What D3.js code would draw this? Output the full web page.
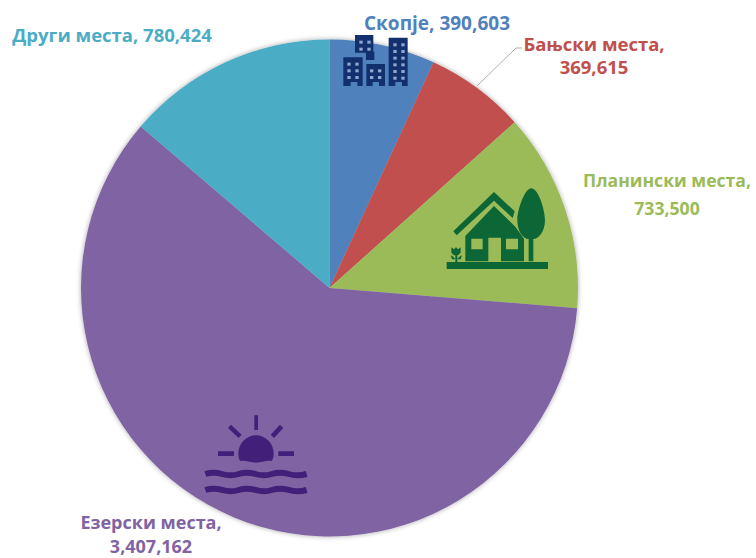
<!DOCTYPE html>
<html>
<head>
<meta charset="utf-8">
<script src="https://cdnjs.cloudflare.com/ajax/libs/d3/7.8.5/d3.min.js"></script>
<style>
  html, body { margin: 0; background: #fff; }
  text { font-family: "Open Sans", sans-serif; font-weight: 700; }
</style>
</head>
<body>
<svg id="chart" width="756" height="558"></svg>
<script>
const categories = ['Скопје', 'Бањски места', 'Планински места', 'Езерски места', 'Други места'];
const visitors = [390603, 369615, 733500, 3407162, 780424];
const valueLabels = ['390,603', '369,615', '733,500', '3,407,162', '780,424'];
const sliceColors = ['#4f81bd', '#c0504d', '#9bbb59', '#8064a2', '#4bacc6'];

const width = 756, height = 558;
const cx = 329.5, cy = 288, radius = 248.5;

const svg = d3.select('#chart').attr('viewBox', `0 0 ${width} ${height}`);

// soft shadow round the pie
const defs = svg.append('defs');
const shadow = defs.append('filter').attr('id', 'soft')
    .attr('x', '-5%').attr('y', '-5%').attr('width', '110%').attr('height', '110%');
shadow.append('feDropShadow')
    .attr('dx', 0).attr('dy', 0).attr('stdDeviation', 2.5)
    .attr('flood-color', '#000').attr('flood-opacity', 0.35);

const pie = d3.pie().sort(null)(visitors);
const arc = d3.arc().innerRadius(0).outerRadius(radius);

svg.append('g')
    .attr('transform', `translate(${cx},${cy})`)
    .attr('filter', 'url(#soft)')
    .selectAll('path')
    .data(pie)
    .join('path')
    .attr('d', arc)
    .attr('fill', (d, i) => sliceColors[i]);

// leader line for the Бањски места label
svg.append('polyline')
    .attr('points', '477,86 516,48 522,48')
    .attr('fill', 'none')
    .attr('stroke', '#b0aca6')
    .attr('stroke-width', 1);

// labels: lines, centre x, first baseline, gap between lines, font size
const labelPlaces = [
    { i: 0, lines: [`${categories[0]}, ${valueLabels[0]}`], x: 437, y: 30, gap: 0, size: 19 },
    { i: 1, lines: [`${categories[1]},`, valueLabels[1]], x: 594, y: 51, gap: 23, size: 18.5 },
    { i: 2, lines: [`${categories[2]},`, valueLabels[2]], x: 667, y: 187, gap: 28, size: 17.6 },
    { i: 3, lines: [`${categories[3]},`, valueLabels[3]], x: 151, y: 529, gap: 24, size: 18 },
    { i: 4, lines: [`${categories[4]}, ${valueLabels[4]}`], x: 112, y: 42, gap: 0, size: 18.5 }
];

const labels = svg.append('g').selectAll('text')
    .data(labelPlaces)
    .join('text')
    .attr('text-anchor', 'middle')
    .attr('fill', d => sliceColors[d.i])
    .attr('font-size', d => d.size)
    .attr('transform', d => `translate(${d.x},${d.y})`);

labels.selectAll('tspan')
    .data(d => d.lines.map((line, n) => ({ line, dy: n ? d.gap : 0 })))
    .join('tspan')
    .attr('x', 0)
    .attr('dy', d => d.dy)
    .text(d => d.line);

// buildings icon, traced in zoom-crop units
const city = svg.append('g').attr('transform', 'translate(320,0) scale(0.3333)');
const navy = '#12306e', glass = '#8fa8d2';
city.append('path').attr('fill', navy)
    .attr('d', 'M105,105H160V155H163V180H138V158H105Z' +
               'M70,172H128V258H112V246H92V258H70Z' +
               'M139,192H195V258H177V246H158V258H139Z' +
               'M206,113H263V258H246V246H226V258H206Z');
const cityWindows = [
    [118, 122], [142, 122], [118, 143], [142, 143],
    [82, 188], [106, 188], [82, 208], [106, 208], [82, 228], [106, 228],
    [150, 208], [174, 208], [150, 228], [174, 228],
    [220, 130], [244, 130], [220, 150], [244, 150], [220, 170], [244, 170],
    [220, 190], [244, 190], [220, 210], [244, 210], [220, 230], [244, 230]
];
city.selectAll('rect').data(cityWindows).join('rect')
    .attr('x', d => d[0]).attr('y', d => d[1])
    .attr('width', 10).attr('height', 9)
    .attr('fill', glass);

// house icon
const house = svg.append('g').attr('transform', 'translate(430,170) scale(0.3333)');
const leaf = '#0d6636', grass = '#9bbb59';
house.append('path').attr('fill', leaf)
    .attr('d', 'M70,184L192,66L254,124L248,144L192,92L80,196Z' +
               'M106,198L192,108L256,170L282,206V274H106Z' +
               'M304,55C325,55 345,120 345,150C345,185 325,207 310,207V274H296V207C280,207 262,185 262,150C262,120 284,55 304,55Z' +
               'M50,276H354V297H50Z' +
               'M64,232L72,238L78,232L84,238L92,232V248L84,256H72L64,248Z' +
               'M76,256H82V276H76Z' +
               'M62,256C68,258 74,264 76,268H66ZM96,256C90,258 84,264 82,268H92Z');
house.append('path').attr('fill', grass)
    .attr('d', 'M124,206H158V238H124Z M228,206H264V238H228Z M175,203H213V276H175Z');

// sun over water icon
const lake = svg.append('g').attr('transform', 'translate(190,400) scale(0.3333)');
const dusk = '#42207a';
lake.append('path').attr('fill', dusk)
    .attr('d', 'M145,160A53,54 0 0 1 251,160C251,172 249,178 245,183C228,180 215,188 198,188C180,188 168,180 150,183C147,176 145,170 145,160Z' +
               'M193,46H204V90H193Z' +
               'M84,154H132V168H84Z M265,154H312V168H265Z' +
               'M123,74L155,104L146,114L114,84Z M270,74L280,84L252,114L242,104Z');
lake.selectAll('path.wave')
    .data([222, 270])
    .join('path')
    .attr('class', 'wave')
    .attr('fill', 'none')
    .attr('stroke', dusk)
    .attr('stroke-width', 18)
    .attr('d', y => `M46,${y}Q70,${y - 8} 96,${y}T146,${y}T196,${y}T246,${y}T296,${y}T350,${y}`);
</script>
</body>
</html>
